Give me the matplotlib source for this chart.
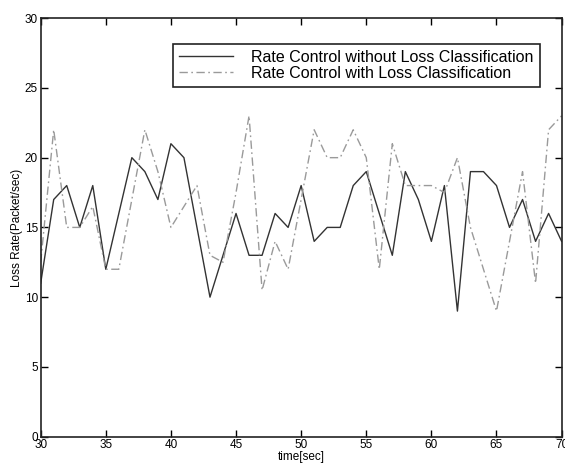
import matplotlib
matplotlib.use('Agg')
import matplotlib.pyplot as plt
import numpy as np

plt.rcParams['font.family'] = ['Liberation Sans', 'DejaVu Sans']

# time axis, one sample per second
t = list(range(30, 71))

# rate control without loss classification (solid)
without_lc = [11, 17, 18, 15, 18, 12, 16, 20, 19, 17,
              21, 20, 15, 10, 13, 16, 13, 13, 16, 15,
              18, 14, 15, 15, 18, 19, 16, 13, 19, 17,
              14, 18, 9, 19, 19, 18, 15, 17, 14, 16, 14]

# rate control with loss classification (dash-dot)
with_lc = [12.5, 22, 15, 15, 16.5, 12, 12, 17, 22, 19,
           15, 16.5, 18, 13, 12.5, 17.5, 23, 10.5, 14, 12,
           17, 22, 20, 20, 22, 20, 12, 21, 18, 18,
           18, 17.5, 20, 15, 12, 9, 14, 19, 11, 22, 23]

fig = plt.figure(figsize=(5.65, 4.66), dpi=100)
ax = fig.add_axes([0.072, 0.063, 0.922, 0.898])

ax.plot(t, without_lc, '-', color='#333333', lw=1.0,
        label='Rate Control without Loss Classification')
ax.plot(t, with_lc, color='#9a9a9a', lw=1.0, dashes=(6, 2.5, 1.2, 2.5),
        label='Rate Control with Loss Classification')

ax.set_xlim(30, 70)
ax.set_ylim(0, 30)
ax.set_xticks(np.arange(30, 71, 5))
ax.set_yticks(np.arange(0, 31, 5))
ax.tick_params(direction='in', top=True, right=True, length=5, width=1,
               labelsize=8.5, pad=2)
for s in ax.spines.values():
    s.set_linewidth(1.2)
    s.set_color('#222222')

ax.set_xlabel('time[sec]', fontsize=8.5, labelpad=0)
ax.set_ylabel('Loss Rate(Packet/sec)', fontsize=8.5, labelpad=1)

leg = ax.legend(loc='upper right', bbox_to_anchor=(0.958, 0.939),
                borderaxespad=0, fontsize=11.5, handlelength=3.4,
                handletextpad=1.1, labelspacing=0.05, borderpad=0.4,
                fancybox=False, framealpha=1, edgecolor='#222222')
leg.get_frame().set_linewidth(1.2)

fig.savefig('out.png', dpi=100)
